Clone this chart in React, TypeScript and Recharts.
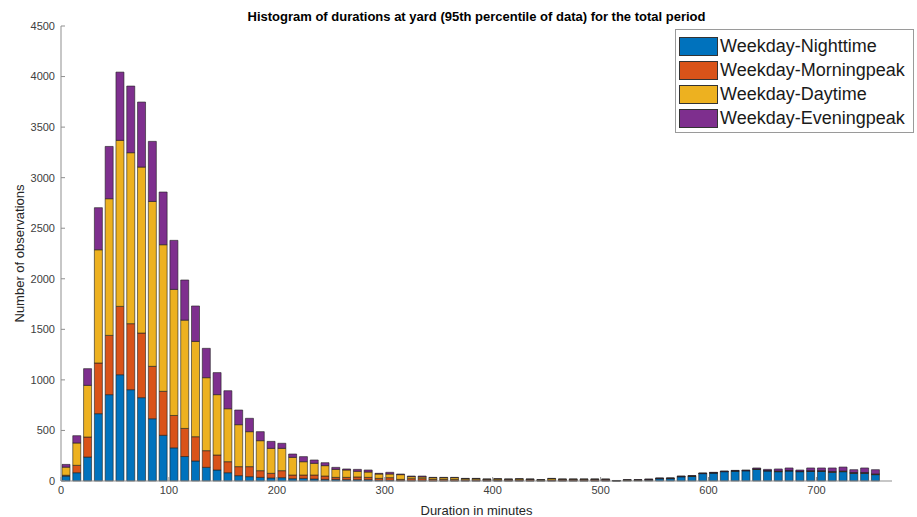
import { BarChart, Bar, XAxis, YAxis, Legend } from 'recharts'

// 10-minute bins, labelled by their centre (minutes)
const bins = [
  5, 15, 25, 35, 45, 55, 65, 75, 85, 95,
  105, 115, 125, 135, 145, 155, 165, 175, 185, 195,
  205, 215, 225, 235, 245, 255, 265, 275, 285, 295,
  305, 315, 325, 335, 345, 355, 365, 375, 385, 395,
  405, 415, 425, 435, 445, 455, 465, 475, 485, 495,
  505, 515, 525, 535, 545, 555, 565, 575, 585, 595,
  605, 615, 625, 635, 645, 655, 665, 675, 685, 695,
  705, 715, 725, 735, 745, 755,
]

const nighttime = [
  49, 82, 237, 666, 854, 1051, 903, 824, 616, 452,
  328, 242, 198, 135, 109, 82, 53, 43, 36, 30,
  33, 23, 26, 20, 16, 16, 13, 13, 13, 7,
  7, 4, 3, 3, 2, 2, 2, 2, 2, 2,
  2, 2, 2, 2, 2, 2, 2, 2, 2, 2,
  3, 1, 4, 5, 8, 22, 23, 42, 45, 73,
  79, 92, 98, 101, 115, 99, 92, 99, 92, 96,
  96, 86, 92, 76, 76, 63,
]

const morningPeak = [
  8, 73, 198, 501, 586, 676, 653, 639, 518, 435,
  320, 278, 240, 165, 148, 109, 89, 99, 66, 46,
  69, 36, 33, 39, 33, 20, 23, 27, 23, 19,
  26, 12, 20, 20, 14, 14, 12, 10, 10, 8,
  8, 8, 8, 10, 5, 8, 8, 8, 8, 10,
  7, 2, 4, 4, 5, 3, 3, 2, 3, 2,
  2, 2, 2, 2, 3, 3, 4, 3, 3, 3,
  3, 4, 3, 4, 4, 4,
]

const daytime = [
  80, 221, 511, 1120, 1352, 1642, 1691, 1642, 1631, 1450,
  1247, 1071, 943, 722, 597, 524, 415, 346, 297, 247,
  221, 175, 132, 116, 103, 79, 73, 56, 53, 43,
  36, 47, 20, 17, 17, 17, 19, 12, 12, 8,
  11, 8, 11, 6, 5, 14, 8, 8, 8, 6,
  7, 1, 3, 2, 3, 2, 2, 2, 2, 1,
  1, 1, 1, 1, 2, 2, 3, 3, 2, 3,
  3, 4, 4, 4, 4, 3,
]

const eveningPeak = [
  27, 72, 165, 416, 517, 675, 659, 643, 594, 521,
  485, 397, 350, 290, 218, 178, 145, 132, 89, 69,
  50, 33, 50, 33, 29, 20, 10, 19, 20, 7,
  17, 6, 6, 9, 3, 3, 3, 2, 2, 2,
  2, 2, 2, 2, 1, 2, 2, 2, 2, 2,
  3, 1, 2, 2, 4, 3, 2, 3, 3, 3,
  4, 4, 4, 5, 9, 11, 20, 24, 12, 27,
  27, 35, 39, 28, 45, 42,
]

const xTicks = [0, 100, 200, 300, 400, 500, 600, 700]
const yTicks = [0, 500, 1000, 1500, 2000, 2500, 3000, 3500, 4000, 4500]

const series = [
  { key: 'night', name: 'Weekday-Nighttime', color: '#0072BD' },
  { key: 'morning', name: 'Weekday-Morningpeak', color: '#D95319' },
  { key: 'day', name: 'Weekday-Daytime', color: '#EDB120' },
  { key: 'evening', name: 'Weekday-Eveningpeak', color: '#7E2F8E' },
]

const data = bins.map((bin, i) => ({
  bin,
  night: nighttime[i],
  morning: morningPeak[i],
  day: daytime[i],
  evening: eveningPeak[i],
}))

const font = '"Liberation Sans", Arial, Helvetica, sans-serif'
const axisColor = '#8f8f8f'
const tickStyle = { fontSize: 11, fill: '#404040', fontFamily: font }

function LegendBox() {
  return (
    <div
      style={{
        position: 'absolute',
        left: 675,
        top: 29,
        width: 234,
        background: '#fff',
        border: '1px solid #9a9a9a',
        padding: '4px 0 2px 3px',
        fontFamily: font,
        fontSize: 18,
        color: '#1a1a1a',
      }}
    >
      {series.map((s) => (
        <div key={s.key} style={{ display: 'flex', alignItems: 'center', height: 24 }}>
          <span
            style={{
              display: 'inline-block',
              width: 37,
              height: 17,
              background: s.color,
              border: '1px solid #333',
              marginRight: 2,
            }}
          />
          <span>{s.name}</span>
        </div>
      ))}
    </div>
  )
}

export default function App() {
  return (
    <div style={{ position: 'absolute', left: 0, top: 0, width: 917, height: 517, background: '#fff' }}>
      <div
        style={{
          position: 'absolute',
          left: 61,
          width: 831,
          top: 9,
          textAlign: 'center',
          fontFamily: font,
          fontWeight: 'bold',
          fontSize: 13,
          lineHeight: '16px',
          color: '#000',
        }}
      >
        Histogram of durations at yard (95th percentile of data) for the total period
      </div>
      <BarChart width={917} height={517} data={data} margin={{ top: 26, right: 25, bottom: 0, left: 0 }}>
        <XAxis
          dataKey="bin"
          type="number"
          domain={[0, 770]}
          ticks={xTicks}
          allowDataOverflow
          tickSize={-4}
          tickMargin={9}
          height={36}
          stroke={axisColor}
          tick={tickStyle}
          label={{
            value: 'Duration in minutes',
            position: 'insideBottom',
            offset: 2,
            style: { fontSize: 13, fill: '#262626', fontFamily: font },
          }}
        />
        <YAxis
          type="number"
          domain={[0, 4500]}
          ticks={yTicks}
          width={61}
          tickSize={-4}
          tickMargin={10}
          stroke={axisColor}
          tick={tickStyle}
          label={{
            value: 'Number of observations',
            angle: -90,
            position: 'insideLeft',
            offset: 19,
            style: { fontSize: 13, fill: '#262626', fontFamily: font, textAnchor: 'middle' },
          }}
        />
        <Legend verticalAlign="middle" align="center" layout="horizontal" content={() => <LegendBox />} wrapperStyle={{ position: 'absolute', left: 0, top: 0, width: 0, height: 0 }} />
        {series.map((s) => (
          <Bar
            key={s.key}
            dataKey={s.key}
            name={s.name}
            stackId="all"
            fill={s.color}
            stroke="#1f1f1f"
            strokeWidth={0.6}
            barSize={8}
            isAnimationActive={false}
          />
        ))}
      </BarChart>
    </div>
  )
}
